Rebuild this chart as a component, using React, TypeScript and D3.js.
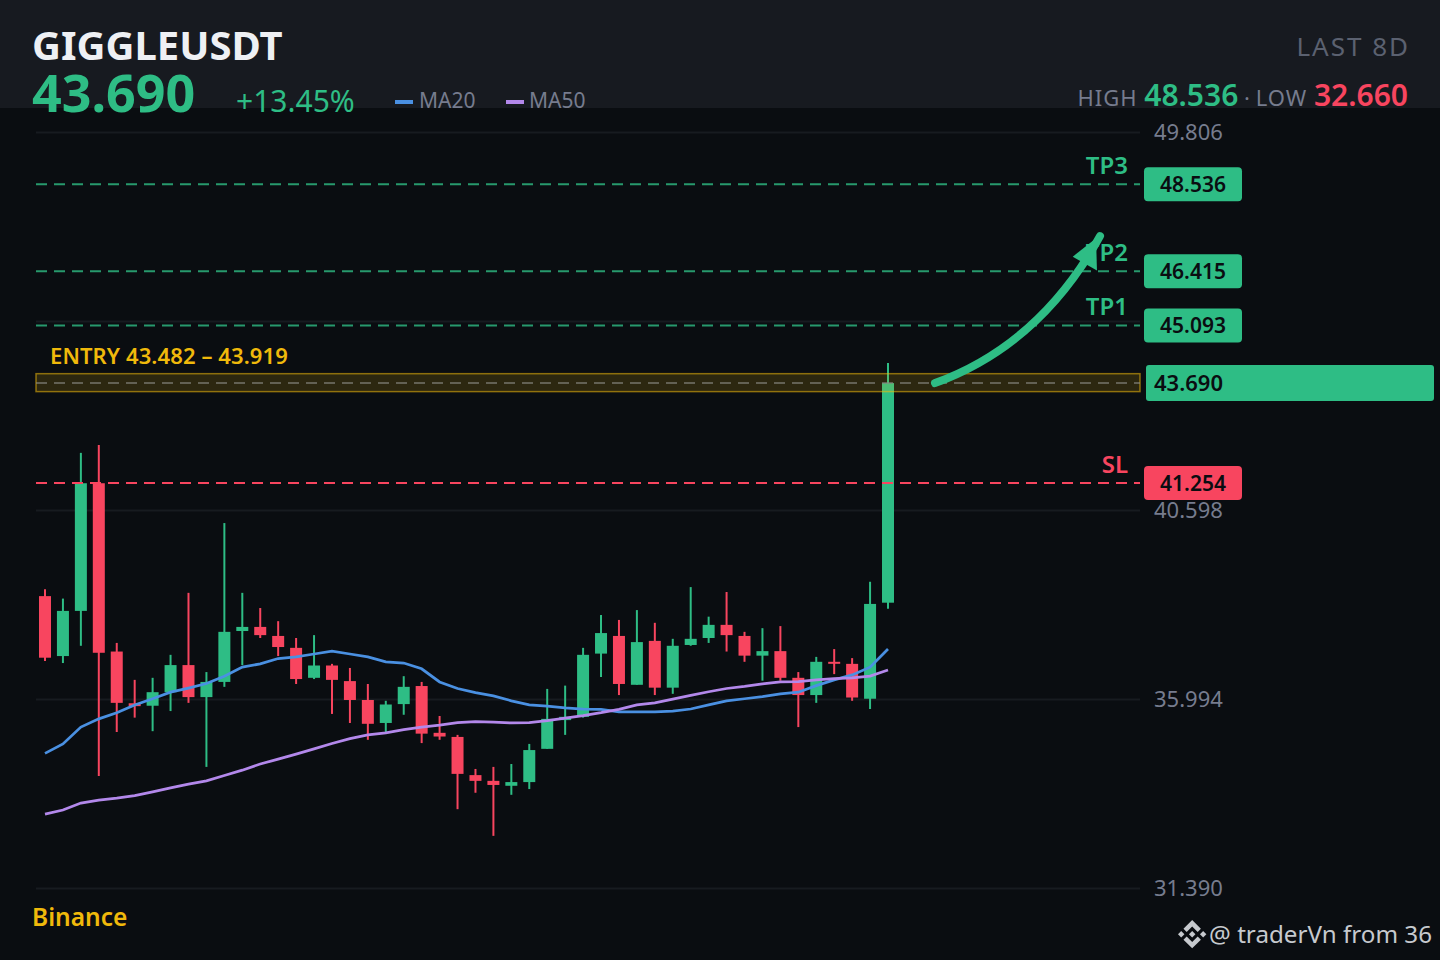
import { useEffect, useRef } from "react";
import * as d3 from "d3";

const opens = [38.5,37.04,38.14,41.25,37.15,35.89,35.83,36.16,36.82,36.04,36.41,37.65,37.75,37.53,37.24,36.51,36.81,36.43,35.97,35.41,35.87,36.31,35.17,35.07,34.14,34.0,33.88,33.97,34.78,35.48,35.56,37.1,37.53,36.34,37.41,36.27,37.31,37.48,37.8,37.53,37.05,37.16,36.51,36.09,36.9,36.85,36.0,38.34];
const highs = [38.67,38.44,41.99,42.18,37.36,36.46,36.51,37.07,38.58,36.65,40.28,38.58,38.21,37.89,37.48,37.55,36.85,36.75,36.36,35.95,36.55,36.41,35.58,35.12,34.29,34.34,34.41,34.9,36.24,36.32,37.24,38.04,37.92,38.16,37.85,37.46,38.72,38.0,38.6,37.63,37.72,37.77,36.65,37.02,37.21,36.99,38.85,44.18];
const lows = [36.92,36.87,37.29,34.12,35.19,35.54,35.21,35.7,35.9,34.34,36.29,36.82,37.48,37.04,36.36,36.48,35.63,35.41,35.0,35.17,35.61,34.92,35.0,33.31,33.71,32.66,33.66,33.8,34.78,35.12,35.54,36.53,36.09,36.34,36.09,36.12,37.29,37.36,37.15,36.9,36.44,36.44,35.31,35.9,36.6,35.95,35.75,38.19];
const closes = [37.0,38.14,41.25,37.12,35.9,35.82,36.16,36.82,36.04,36.41,37.63,37.75,37.55,37.26,36.48,36.81,36.46,35.97,35.39,35.86,36.29,35.15,35.08,34.17,34.0,33.9,33.97,34.75,35.51,35.56,37.07,37.6,36.36,37.38,36.27,37.29,37.46,37.8,37.55,37.05,37.16,36.51,36.09,36.9,36.87,36.03,38.31,43.69];

const ma20 = [34.67,34.9,35.31,35.51,35.66,35.85,36.0,36.16,36.26,36.37,36.55,36.77,36.85,36.98,37.02,37.09,37.16,37.09,37.02,36.9,36.87,36.73,36.41,36.25,36.15,36.07,35.95,35.85,35.82,35.78,35.75,35.74,35.68,35.68,35.68,35.7,35.75,35.85,35.95,36.0,36.05,36.12,36.16,36.32,36.46,36.58,36.77,37.21];
const ma50 = [33.19,33.29,33.46,33.53,33.58,33.64,33.73,33.83,33.92,34.0,34.13,34.26,34.41,34.53,34.65,34.78,34.91,35.03,35.12,35.17,35.25,35.31,35.36,35.42,35.44,35.43,35.41,35.42,35.47,35.53,35.59,35.66,35.74,35.85,35.9,35.99,36.08,36.17,36.25,36.3,36.36,36.41,36.42,36.46,36.49,36.51,36.55,36.7];

const axisTicks = [49.806, 45.202, 40.598, 35.994, 31.39];
const hiddenTick = 45.202; // its label sits under the TP1 badge
const targetNames = ["TP3", "TP2", "TP1"];
const targetPrices = [48.536, 46.415, 45.093];
const stopPrice = 41.254;
const lastPrice = 43.69;
const entryLow = 43.482;
const entryHigh = 43.919;

// arrow as [candle index, price]: start, control, end
const arrowCurve = [[49.62, 43.69], [55.47, 44.62], [58.82, 47.27]];
const arrowHead = [[57.3, 46.77], [58.65, 46.43], [58.6, 47.22]];

const GREEN = "#2ebd85";
const RED = "#f8455f";
const YELLOW = "#f0b90b";
const GREY = "#767c8e";
const FONT = "'Noto Sans', sans-serif";

const App = () => {
  const svgRef = useRef<SVGSVGElement>(null);

  useEffect(() => {
    const svg = d3.select(svgRef.current);
    svg.selectAll("*").remove();
    svg.style("font-family", FONT);

    const x = d3.scaleLinear().domain([0, 47]).range([45, 888]);
    const y = d3.scaleLinear().domain([31.39, 49.806]).range([888, 132]);

    const addText = (
      txt: string, px: number, py: number, size: number, fill: string,
      weight = 400, anchor = "start", spacing = 0,
    ) =>
      svg.append("text").attr("x", px).attr("y", py).attr("font-size", size)
        .attr("fill", fill).attr("font-weight", weight)
        .attr("text-anchor", anchor).attr("letter-spacing", spacing).text(txt);

    // background
    svg.append("rect").attr("width", 1440).attr("height", 960).attr("fill", "#0a0d11");
    svg.append("rect").attr("width", 1440).attr("height", 108).attr("fill", "#171a20");

    // price axis and grid
    const axis = svg.append("g").attr("transform", "translate(1140,0)")
      .call(d3.axisRight(y).tickValues(axisTicks)
        .tickFormat((d: any) => (d === hiddenTick ? "" : d3.format(".3f")(d)))
        .tickSizeInner(-1104).tickSizeOuter(0).tickPadding(14));
    axis.select(".domain").remove();
    axis.selectAll("line").attr("stroke", "#171b20").attr("stroke-width", 2);
    axis.selectAll("text").attr("fill", GREY).attr("font-size", 22)
      .attr("font-family", FONT).attr("dy", "0.35em");

    // candles
    const candles = svg.append("g").selectAll("g").data(opens).enter().append("g");
    const colorOf = (i: number) => (closes[i] >= opens[i] ? GREEN : RED);
    candles.append("line")
      .attr("x1", (_, i) => x(i)).attr("x2", (_, i) => x(i))
      .attr("y1", (_, i) => y(highs[i])).attr("y2", (_, i) => y(lows[i]))
      .attr("stroke", (_, i) => colorOf(i)).attr("stroke-width", 2);
    candles.append("rect")
      .attr("x", (_, i) => x(i) - 6).attr("width", 12)
      .attr("y", (_, i) => y(Math.max(opens[i], closes[i])))
      .attr("height", (_, i) => Math.max(2, Math.abs(y(opens[i]) - y(closes[i]))))
      .attr("fill", (_, i) => colorOf(i));

    // moving averages
    const maLine = d3.line<number>().x((_, i) => x(i)).y((d) => y(d));
    svg.append("path").attr("d", maLine(ma20)).attr("fill", "none")
      .attr("stroke", "#4a90e2").attr("stroke-width", 2.75);
    svg.append("path").attr("d", maLine(ma50)).attr("fill", "none")
      .attr("stroke", "#b388eb").attr("stroke-width", 2.75);

    // entry zone
    svg.append("rect").attr("x", 36).attr("width", 1104)
      .attr("y", y(entryHigh)).attr("height", y(entryLow) - y(entryHigh))
      .attr("fill", YELLOW).attr("fill-opacity", 0.15)
      .attr("stroke", YELLOW).attr("stroke-opacity", 0.55).attr("stroke-width", 1.5);
    svg.append("line").attr("x1", 36).attr("x2", 1140)
      .attr("y1", y(lastPrice)).attr("y2", y(lastPrice))
      .attr("stroke", "#8a8a82").attr("stroke-opacity", 0.8)
      .attr("stroke-width", 1.5).attr("stroke-dasharray", "11 7");
    addText("ENTRY 43.482 – 43.919", 50, 364, 22, YELLOW, 600, "start", 0.1);

    // target and stop levels
    const level = (name: string, price: number, color: string, opacity: number) => {
      svg.append("line").attr("x1", 36).attr("x2", 1140)
        .attr("y1", y(price)).attr("y2", y(price))
        .attr("stroke", color).attr("stroke-opacity", opacity)
        .attr("stroke-width", 2).attr("stroke-dasharray", "11 7");
      addText(name, 1128, y(price) - 10, 24, color, 600, "end");
      svg.append("rect").attr("x", 1144).attr("y", y(price) - 17)
        .attr("width", 98).attr("height", 34).attr("rx", 4).attr("fill", color);
      addText(price.toFixed(3), 1193, y(price) + 8, 21, "#0a0d11", 600, "middle");
    };
    targetPrices.forEach((p, i) => level(targetNames[i], p, GREEN, 0.8));
    level("SL", stopPrice, RED, 1);

    // last price tag
    svg.append("rect").attr("x", 1146).attr("y", y(lastPrice) - 18)
      .attr("width", 288).attr("height", 36).attr("rx", 3).attr("fill", GREEN);
    addText(lastPrice.toFixed(3), 1154, y(lastPrice) + 8, 22, "#0a0d11", 600);

    // arrow
    const curve = d3.path();
    curve.moveTo(x(arrowCurve[0][0]), y(arrowCurve[0][1]));
    curve.quadraticCurveTo(
      x(arrowCurve[1][0]), y(arrowCurve[1][1]),
      x(arrowCurve[2][0]), y(arrowCurve[2][1]),
    );
    svg.append("path").attr("d", curve.toString()).attr("fill", "none")
      .attr("stroke", GREEN).attr("stroke-width", 8).attr("stroke-linecap", "round");
    svg.append("polygon")
      .attr("points", arrowHead.map((p) => `${x(p[0])},${y(p[1])}`).join(" "))
      .attr("fill", GREEN);

    // header
    addText("GIGGLEUSDT", 32, 60, 40, "#eef0f4", 700);
    addText(lastPrice.toFixed(3), 32, 112, 52, GREEN, 700);
    addText("+13.45%", 236, 112, 30, GREEN);

    svg.append("rect").attr("x", 395).attr("y", 100).attr("width", 18).attr("height", 4).attr("fill", "#4a90e2");
    addText("MA20", 419, 108, 21, GREY);
    svg.append("rect").attr("x", 506).attr("y", 100).attr("width", 18).attr("height", 4).attr("fill", "#b388eb");
    addText("MA50", 529, 108, 21, GREY);

    addText("LAST 8D", 1410, 56, 26, "#5b6170", 400, "end", 2);

    const stats = svg.append("text").attr("x", 1408).attr("y", 106).attr("text-anchor", "end");
    const part = (txt: string, size: number, fill: string, weight: number, spacing = 0) =>
      stats.append("tspan").attr("font-size", size).attr("fill", fill)
        .attr("font-weight", weight).attr("letter-spacing", spacing).text(txt);
    part("HIGH ", 22, GREY, 400, 1);
    part("48.536", 30, GREEN, 600);
    part(" · ", 22, GREY, 400);
    part("LOW ", 22, GREY, 400, 1);
    part("32.660", 30, RED, 600);

    // footer
    addText("Binance", 32, 926, 24.5, YELLOW, 600);
    addText("@ traderVn from 36", 1432, 943, 24.2, "#c6c9ce", 400, "end");
    const logo = svg.append("g").attr("transform", "translate(1178,920) scale(0.224)").attr("fill", "#c6c9ce");
    [
      "M38.73 53.2l24.59-24.58 24.6 24.6 14.3-14.31L63.32 0 24.42 38.9l14.31 14.3z",
      "M0 63.31l14.3-14.31 14.31 14.31-14.31 14.3z",
      "M38.73 73.41L63.32 98l24.6-24.6 14.31 14.29-38.9 38.91-38.91-38.88-.02-.02 14.32-14.29z",
      "M98 63.31l14.3-14.31 14.31 14.3-14.31 14.32z",
      "M77.83 63.3L63.32 48.78 48.81 63.28l14.51 14.5 14.51-14.48z",
    ].forEach((d) => logo.append("path").attr("d", d));
  }, []);

  return <svg ref={svgRef} width={1440} height={960} style={{ position: "fixed", left: 0, top: 0 }} />;
};

export default App;
